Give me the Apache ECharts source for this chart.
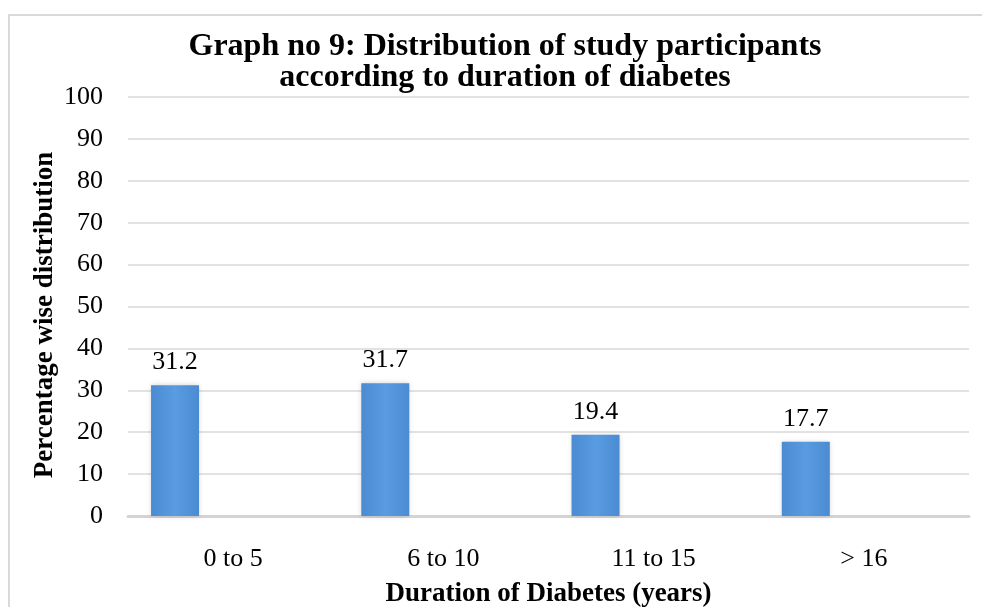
<!DOCTYPE html>
<html>
<head>
<meta charset="utf-8">
<script src="https://cdn.jsdelivr.net/npm/echarts@6/dist/echarts.min.js"></script>
<style>
  html, body { margin: 0; padding: 0; background: #fff; }
  #chart { width: 982px; height: 607px; }
</style>
</head>
<body>
<div id="chart"></div>
<script>
// Duration groups and the share of participants in each (%)
const categories = ['0 to 5', '6 to 10', '11 to 15', '> 16'];
const percentValues = [31.2, 31.7, 19.4, 17.7];
// Second (empty) column in each group, which pushes the bars to the left
const emptyValues = [null, null, null, null];
const yTicks = { min: 0, max: 100, interval: 10 };

const serif = '"Liberation Serif", "Times New Roman", serif';

const chart = echarts.init(document.getElementById('chart'), null, { renderer: 'canvas' });

const barFill = new echarts.graphic.LinearGradient(0, 0, 1, 0, [
  { offset: 0, color: '#4a8bd2' },
  { offset: 0.5, color: '#5a9ce0' },
  { offset: 1, color: '#4a8bd2' }
]);

chart.setOption({
  animation: false,
  backgroundColor: '#ffffff',
  title: {
    text: 'Graph no 9: Distribution of study participants\naccording to duration of diabetes',
    left: 505,
    top: 31,
    padding: 0,
    textAlign: 'center',
    textStyle: {
      fontFamily: serif,
      fontWeight: 'bold',
      fontSize: 32,
      lineHeight: 31,
      color: '#000'
    }
  },
  graphic: [
    {
      type: 'rect',
      shape: { x: 9, y: 15, width: 1000, height: 620 },
      style: { fill: 'none', stroke: '#d9d9d9', lineWidth: 2 },
      silent: true,
      z: -1
    }
  ],
  grid: {
    left: 128, right: 13, top: 97, bottom: 91,
    containLabel: false,
    outerBoundsMode: 'none'
  },
  xAxis: {
    type: 'category',
    data: categories,
    name: 'Duration of Diabetes (years)',
    nameLocation: 'middle',
    nameGap: 65,
    nameMoveOverlap: false,
    nameTextStyle: { fontFamily: serif, fontWeight: 'bold', fontSize: 27, color: '#000' },
    axisLine: { show: true, lineStyle: { color: '#d4d4d4', width: 3 } },
    axisTick: { show: false },
    axisLabel: { fontFamily: serif, fontSize: 26, color: '#000', margin: 30 },
    splitLine: { show: false }
  },
  yAxis: {
    type: 'value',
    min: yTicks.min,
    max: yTicks.max,
    interval: yTicks.interval,
    name: 'Percentage wise distribution',
    nameLocation: 'middle',
    nameRotate: 90,
    nameGap: 69,
    nameMoveOverlap: false,
    nameTextStyle: {
      fontFamily: serif, fontWeight: 'bold', fontSize: 27, color: '#000',
      padding: [0, 17, 0, 0]
    },
    axisLine: { show: false },
    axisTick: { show: false },
    axisLabel: { fontFamily: serif, fontSize: 26, color: '#000', margin: 25 },
    splitLine: { lineStyle: { color: '#d9d9d9', width: 1.5 } }
  },
  series: [
    {
      type: 'bar',
      data: percentValues,
      barWidth: 48,
      barGap: '142%',
      itemStyle: {
        color: barFill,
        shadowBlur: 5,
        shadowColor: 'rgba(0,0,0,0.18)'
      },
      label: {
        show: true,
        position: 'top',
        distance: 10,
        fontFamily: serif,
        fontSize: 26,
        color: '#000'
      }
    },
    {
      type: 'bar',
      data: emptyValues,
      barWidth: 48
    }
  ]
});
</script>
</body>
</html>
